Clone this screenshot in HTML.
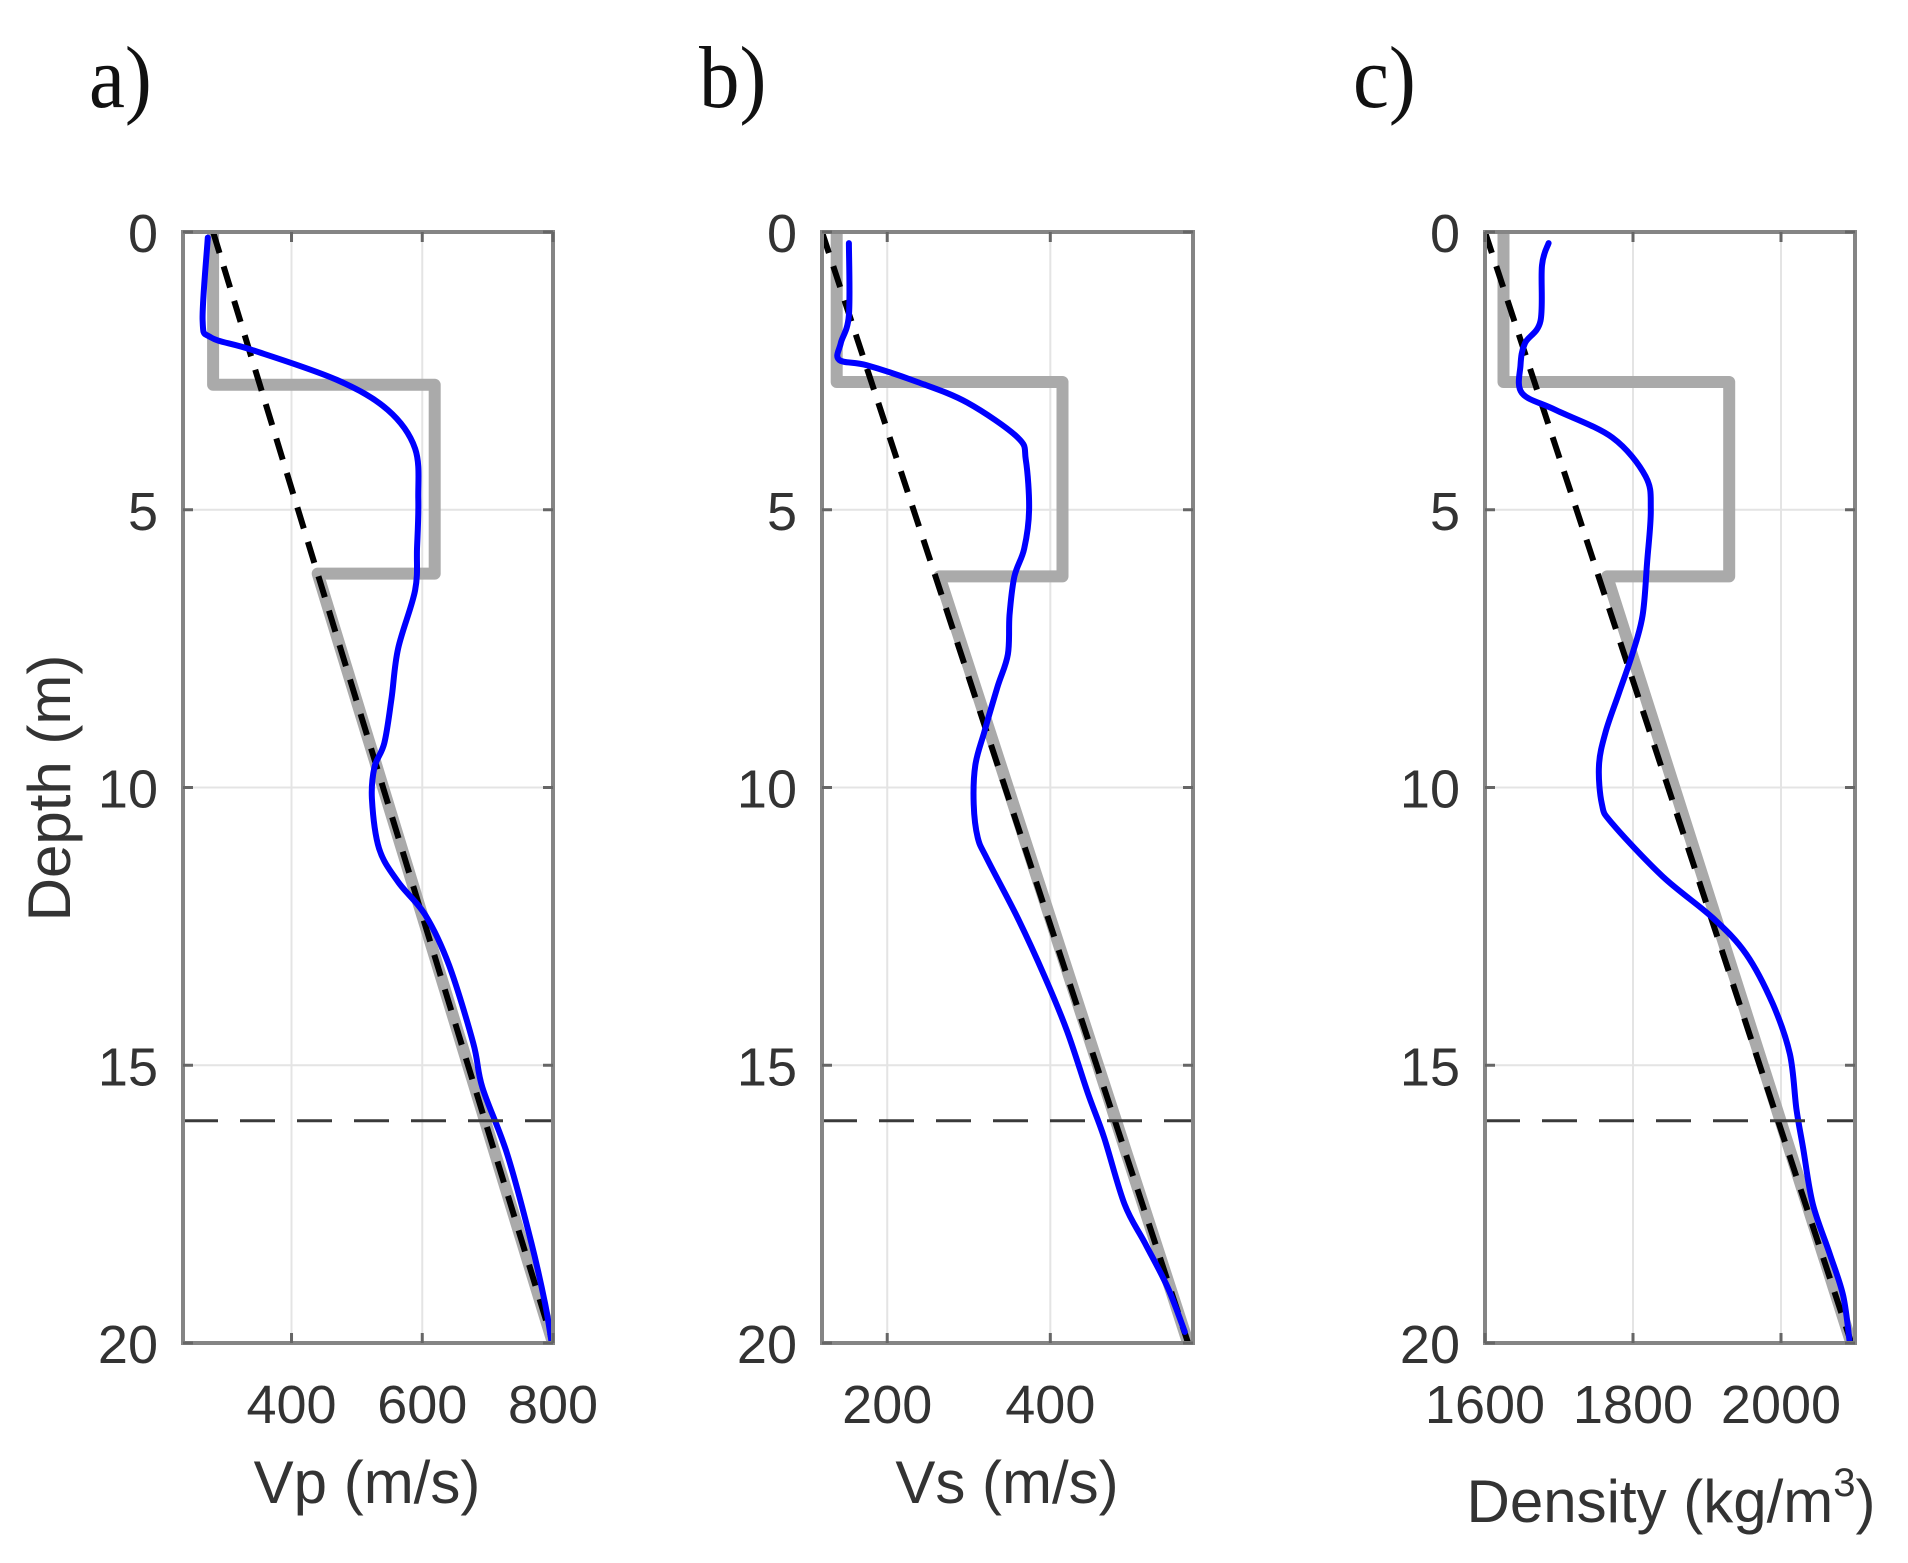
<!DOCTYPE html>
<html><head><meta charset="utf-8"><style>
html,body{margin:0;padding:0;background:#fff;}
svg{display:block;}
text{font-family:"Liberation Sans",sans-serif;fill:#333;}
.pl{font-family:"Liberation Serif",serif;fill:#111;font-size:88px;}
.tk{font-size:54px;}
.al{font-size:60px;}
</style></head><body>
<svg id="fig" width="1908" height="1563" viewBox="0 0 1908 1563">
<defs>
<clipPath id="ca"><rect x="183" y="232" width="370" height="1111"/></clipPath>
<clipPath id="cb"><rect x="822" y="232" width="371" height="1111"/></clipPath>
<clipPath id="cc"><rect x="1485" y="232" width="370" height="1111"/></clipPath>
</defs>
</svg>
<script>
// ---- data ----
const depthTicks = [0,5,10,15,20];
const refDepth = 16;
// Panel a: Vp
const vpTicks = [400,600,800];
const vpBlueDepth = [0.1,1.58,1.9,2.12,2.66,3.2,3.9,4.8,5.7,6.45,7.5,8.4,9.2,9.63,10.2,11.1,11.7,12.3,13.2,14.6,15.4,16.6,18.2,19.3,20];
const vpBlueVal   = [272,264,277,339,469,547,589,594,592,589,563,553,542,527,523,534,563,605,641,678,692,730,767,788,798];
const vpModelDepth = [0,2.75,2.75,6.15,6.15,20];
const vpModelVal   = [280,280,619,619,440,800];
const vpLinDepth = [0,20];
const vpLinVal   = [280,800];
// Panel b: Vs
const vsTicks = [200,400];
const vsBlueDepth = [0.2,1.5,2.0,2.3,2.4,2.7,3.07,3.7,4.1,5.0,5.7,6.2,6.9,7.6,8.2,9.0,9.6,10.3,10.9,11.3,12.35,13.4,14.4,15.5,16.3,17.5,18.2,19.0,19.8];
const vsBlueVal   = [153,153,143,141,175,237,298,360,370,374,368,356,350,348,335,319,308,306,311,323,360,393,421,446,466,491,516,544,565];
const vsModelDepth = [0,2.7,2.7,6.2,6.2,20];
const vsModelVal   = [138,138,415,415,264,569];
const vsLinDepth = [0,20];
const vsLinVal   = [120,569];
// Panel c: Density
const rhoTicks = [1600,1800,2000];
const rhoBlueDepth = [0.2,0.6,1.6,2.0,2.4,2.9,3.2,3.7,4.4,5.0,5.95,6.9,7.6,8.3,9.0,9.6,10.3,10.65,11.6,12.35,13.0,13.9,14.8,15.8,16.5,17.5,18.4,19.15,20];
const rhoBlueVal   = [1686,1677,1675,1654,1648,1650,1695,1772,1817,1824,1819,1813,1799,1781,1763,1754,1758,1772,1840,1908,1953,1989,2012,2021,2030,2043,2066,2084,2093];
const rhoModelDepth = [0,2.7,2.7,6.2,6.2,20];
const rhoModelVal   = [1625,1625,1930,1930,1765,2095];
const rhoLinDepth = [0,20];
const rhoLinVal   = [1600,2095];

const NS='http://www.w3.org/2000/svg';
const svg=document.getElementById('fig');
function mk(tag,attrs,parent){const e=document.createElementNS(NS,tag);for(const k in attrs)e.setAttribute(k,attrs[k]);(parent||svg).appendChild(e);return e;}

const panels=[
 {id:'a',L:183,R:553,x0:234,x1:800,ticks:vpTicks,bd:vpBlueDepth,bv:vpBlueVal,md:vpModelDepth,mv:vpModelVal,ld:vpLinDepth,lv:vpLinVal,lab:'Vp (m/s)',labX:367,labY:1503,pl:'a)',plX:89},
 {id:'b',L:822,R:1193,x0:120,x1:575,ticks:vsTicks,bd:vsBlueDepth,bv:vsBlueVal,md:vsModelDepth,mv:vsModelVal,ld:vsLinDepth,lv:vsLinVal,lab:'Vs (m/s)',labX:1007,labY:1503,pl:'b)',plX:699},
 {id:'c',L:1485,R:1855,x0:1600,x1:2100,ticks:rhoTicks,bd:rhoBlueDepth,bv:rhoBlueVal,md:rhoModelDepth,mv:rhoModelVal,ld:rhoLinDepth,lv:rhoLinVal,lab:'Density (kg/m',labX:1671,labY:1522,pl:'c)',plX:1353}
];
const T=232,B=1343;
function yS(d){return T+(d/20)*(B-T);}
function smooth(P){
 let s='M'+P[0][0].toFixed(1)+','+P[0][1].toFixed(1);
 for(let i=0;i<P.length-1;i++){
  const p0=P[i-1]||P[i],p1=P[i],p2=P[i+1],p3=P[i+2]||P[i+1];
  const c1=[p1[0]+(p2[0]-p0[0])/6,p1[1]+(p2[1]-p0[1])/6];
  const c2=[p2[0]-(p3[0]-p1[0])/6,p2[1]-(p3[1]-p1[1])/6];
  s+=' C'+c1.map(v=>v.toFixed(1)).join(',')+' '+c2.map(v=>v.toFixed(1)).join(',')+' '+p2.map(v=>v.toFixed(1)).join(',');
 }
 return s;
}

panels.forEach(p=>{
 const xS=v=>p.L+(v-p.x0)/(p.x1-p.x0)*(p.R-p.L);
 const g=mk('g',{});
 
 
 depthTicks.forEach(d=>{const l=mk('line',{x1:p.L,x2:p.R,y1:yS(d),y2:yS(d),stroke:'#e4e4e4','stroke-width':2},g);
  });
 p.ticks.forEach(v=>{const l=mk('line',{x1:xS(v),x2:xS(v),y1:T,y2:B,stroke:'#e4e4e4','stroke-width':2},g);
  });
 const cg=mk('g',{'clip-path':'url(#c'+p.id+')'},g);
 const pts=(ds,vs)=>ds.map((d,i)=>xS(vs[i]).toFixed(1)+','+yS(d).toFixed(1)).join(' ');
 const m=mk('polyline',{points:pts(p.md,p.mv),fill:'none',stroke:'#aaaaaa','stroke-width':12,'stroke-linejoin':'round'},cg);
 
 const lin=mk('polyline',{points:pts(p.ld,p.lv),fill:'none',stroke:'#000','stroke-width':6,'stroke-dasharray':'22 14'},cg);
 
 const hd=mk('line',{x1:p.L,x2:p.R,y1:yS(refDepth),y2:yS(refDepth),stroke:'#3a3a3a','stroke-width':3,'stroke-dasharray':'35 22'},g);
 
 const BP=p.bd.map((d,i)=>[xS(p.bv[i]),yS(d)]);
 const bl=mk('path',{d:smooth(BP),fill:'none',stroke:'#0000ff','stroke-width':6,'stroke-linejoin':'round','stroke-linecap':'round'},cg);
 
 const bx=mk('rect',{x:p.L,y:T,width:p.R-p.L,height:B-T,fill:'none',stroke:'#858585','stroke-width':4},g);
 
 depthTicks.forEach(d=>{
  mk('line',{x1:p.L,x2:p.L+10,y1:yS(d),y2:yS(d),stroke:'#666','stroke-width':3},g);
  mk('line',{x1:p.R-10,x2:p.R,y1:yS(d),y2:yS(d),stroke:'#666','stroke-width':3},g);
  const t=mk('text',{x:p.L-25,y:yS(d)+20,'text-anchor':'end',class:'tk'},g);t.textContent=d;
  
 });
 p.ticks.forEach(v=>{
  mk('line',{x1:xS(v),x2:xS(v),y1:B-10,y2:B,stroke:'#666','stroke-width':3},g);
  mk('line',{x1:xS(v),x2:xS(v),y1:T,y2:T+10,stroke:'#666','stroke-width':3},g);
  const t=mk('text',{x:xS(v),y:1423,'text-anchor':'middle',class:'tk'},g);t.textContent=v;
  
 });
 const al=mk('text',{x:p.labX,y:p.labY,'text-anchor':'middle',class:'al'},g);
 
 if(p.id==='c'){al.textContent='Density (kg/m';const s1=mk('tspan',{dy:-26,'font-size':'40'},al);s1.textContent='3';const s2=mk('tspan',{dy:26},al);s2.textContent=')';}
 else al.textContent=p.lab;
 const pl=mk('text',{x:p.plX,y:107,class:'pl',transform:'translate('+p.plX+',0) scale(0.92,1) translate('+(-p.plX)+',0)'},g);pl.textContent=p.pl;
 
});
const yl=mk('text',{x:0,y:0,'text-anchor':'middle',class:'al',transform:'translate(70,788) rotate(-90)'});
yl.textContent='Depth (m)';


</script>
</body></html>
